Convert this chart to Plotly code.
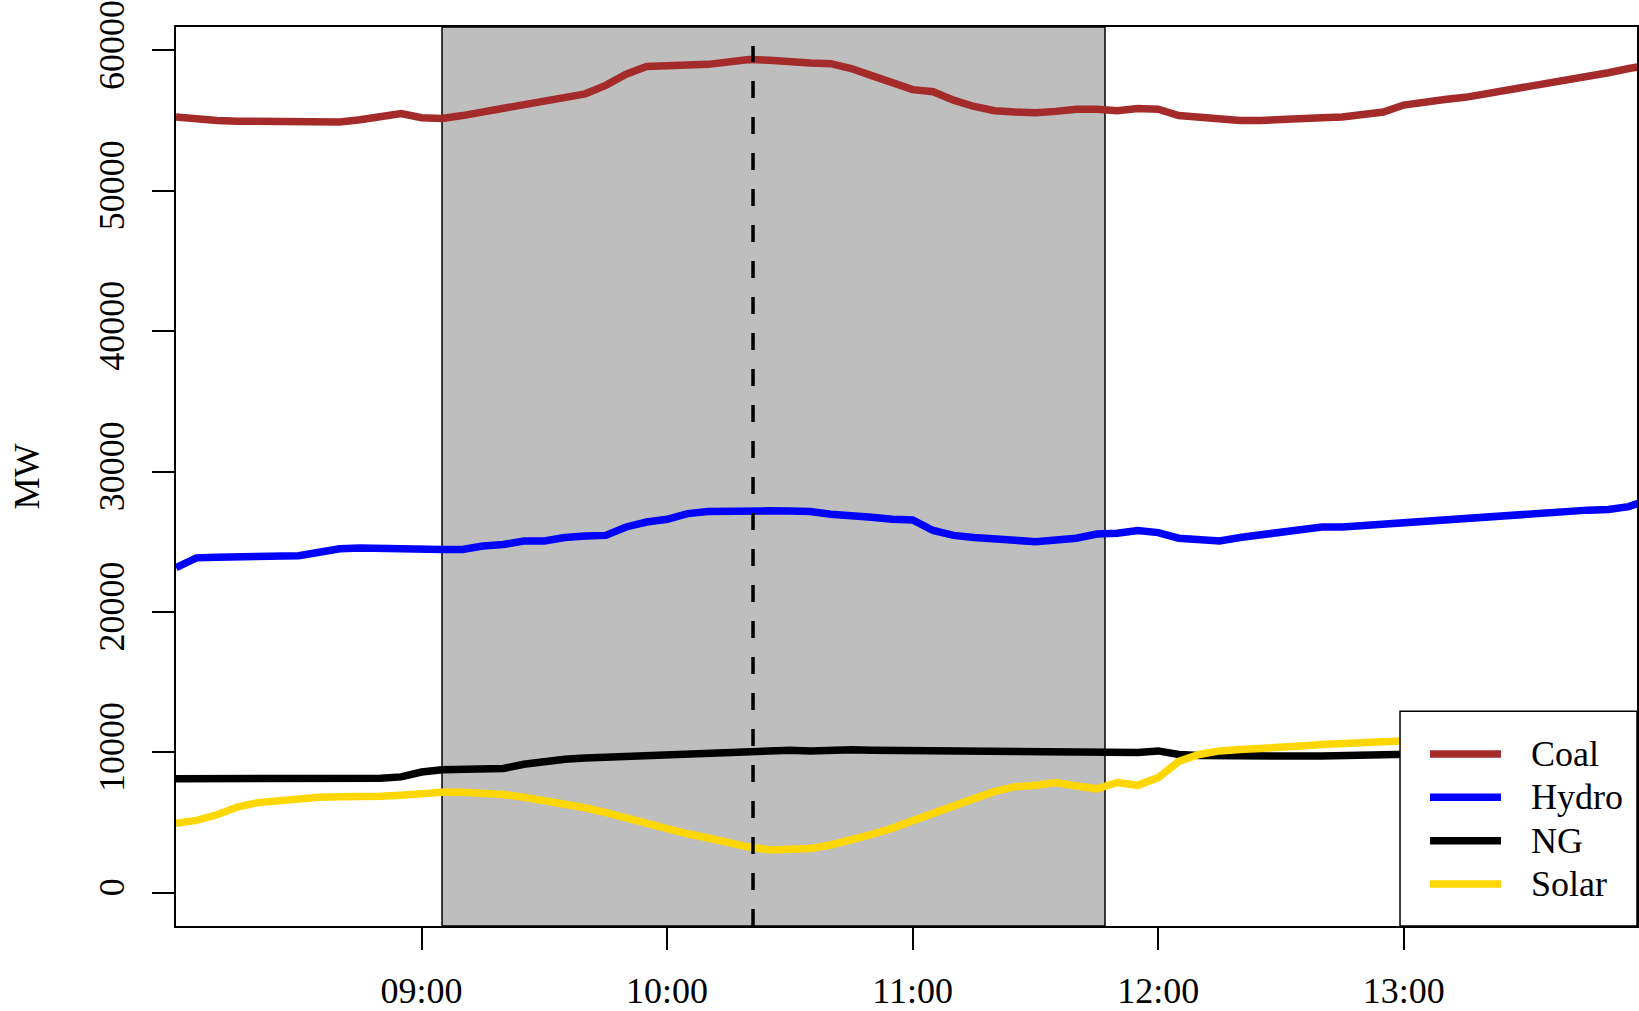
import pandas as pd
import plotly.graph_objects as go

# Generation by fuel, 5-minute samples starting at 08:00
start = "2019-06-01 08:00"
n_points = 73

coal = [55250, 55100, 55000, 54950, 54950, 54900, 54950, 54950, 54900, 55050,
        55250, 55500, 55200, 55150, 55350, 55600, 55850, 56050, 56300, 56650,
        56900, 57500, 58300, 58850, 58950, 58950, 59000, 59150, 59350, 59300,
        59150, 59100, 59050, 58700, 58200, 57650, 57200, 57050, 56450, 56000,
        55700, 55600, 55550, 55650, 55800, 55800, 55700, 55850, 55800, 55350,
        55200, 55050, 55000, 55000, 55100, 55150, 55200, 55250, 55450, 55600,
        56100, 56350, 56500, 56650, 56900, 57050, 57300, 57600, 57900, 58150,
        58400, 58700, 58950]
hydro = [23150, 23850, 23900, 23900, 23920, 23980, 24000, 24250, 24500, 24550,
         24500, 24500, 24480, 24450, 24450, 24700, 24800, 25050, 25050, 25300,
         25400, 25450, 26050, 26400, 26600, 27000, 27150, 27200, 27220, 27200,
         27180, 27150, 26950, 26900, 26750, 26600, 26550, 25800, 25450, 25300,
         25150, 25100, 25000, 25100, 25250, 25550, 25600, 25800, 25650, 25250,
         25150, 25050, 25300, 25500, 25650, 25800, 26050, 26050, 26150, 26250,
         26350, 26550, 26550, 26750, 26850, 26900, 26950, 27100, 27200, 27250,
         27300, 27500, 28000]
ng = [8120, 8120, 8110, 8100, 8100, 8100, 8100, 8100, 8110, 8120,
      8150, 8250, 8600, 8750, 8760, 8800, 8850, 9150, 9350, 9500,
      9600, 9650, 9700, 9750, 9800, 9880, 10000, 10080, 10120, 10120,
      10150, 10100, 10180, 10180, 10150, 10130, 10130, 10130, 10130, 10080,
      10030, 9980, 9970, 9970, 9960, 9960, 9960, 9980, 10100, 9850,
      9780, 9750, 9730, 9720, 9720, 9730, 9740, 9760, 9780, 9780,
      9780, 9800, 9850, 9900, 9950, 10000, 10050, 10100, 10100, 10150,
      10200, 10250, 10300]
solar = [4950, 5150, 5550, 6100, 6420, 6550, 6750, 6800, 6840, 6800,
         6880, 6950, 7100, 7150, 7150, 7100, 7000, 6800, 6550, 6350,
         6050, 5700, 5300, 4900, 4550, 4200, 3900, 3550, 3250, 3050,
         3050, 3150, 3400, 3750, 4150, 4600, 5150, 5650, 6200, 6700,
         7200, 7550, 7650, 7850, 7600, 7400, 7850, 7650, 8200, 9350,
         9850, 10100, 10200, 10250, 10350, 10450, 10550, 10650, 10700, 10750,
         10800, 10900, 11000, 11100, 11200, 11300, 11400, 11500, 11550, 11600,
         11700, 11750, 11800]

series_names = ["Coal", "Hydro", "NG", "Solar"]
series_values = [coal, hydro, ng, solar]
series_colors = ["#A52A2A", "#0000FF", "#000000", "#FFD700"]

x_tick_vals = ["2019-06-01 09:00", "2019-06-01 10:00", "2019-06-01 11:00",
               "2019-06-01 12:00", "2019-06-01 13:00"]
x_tick_text = ["09:00", "10:00", "11:00", "12:00", "13:00"]
y_tick_vals = [0, 10000, 20000, 30000, 40000, 50000, 60000]
y_tick_text = ["0", "10000", "20000", "30000", "40000", "50000", "60000"]

x_range = ["2019-06-01 08:00", "2019-06-01 13:57"]
y_range = [-2370, 61660]

window_start = "2019-06-01 09:05"
window_end = "2019-06-01 11:47"
event_time = "2019-06-01 10:21"
event_top = 60300

times = pd.date_range(start, periods=n_points, freq="5min")

FONT = "Liberation Serif, Times New Roman, serif"
LINE_W = 7.5

fig = go.Figure()
for name, vals, col in zip(series_names, series_values, series_colors):
    fig.add_trace(go.Scatter(x=times, y=vals, mode="lines", name=name,
                             line=dict(color=col, width=LINE_W),
                             showlegend=False))

# shaded window with thin edges
fig.add_shape(type="rect", xref="x", yref="paper",
              x0=window_start, x1=window_end, y0=0, y1=1,
              fillcolor="#BEBEBE", line=dict(color="black", width=1.5),
              layer="below")
# event marker
fig.add_shape(type="line", xref="x", yref="y",
              x0=event_time, x1=event_time, y0=y_range[0], y1=event_top,
              line=dict(color="black", width=3.5, dash="17px,19px"),
              layer="above")

# legend box in the lower-right corner
lg_x0, lg_y1 = 0.8378, 0.239
fig.add_shape(type="rect", xref="paper", yref="paper",
              x0=lg_x0, x1=1.0, y0=0, y1=lg_y1,
              fillcolor="white", line=dict(color="black", width=1.5),
              layer="above")
row_top, row_step = 0.1913, 0.0482
for i, (name, col) in enumerate(zip(series_names, series_colors)):
    yy = row_top - i * row_step
    fig.add_shape(type="line", xref="paper", yref="paper",
                  x0=0.8583, x1=0.9069, y0=yy, y1=yy,
                  line=dict(color=col, width=LINE_W), layer="above")
    fig.add_annotation(xref="paper", yref="paper", x=0.9261, y=yy,
                       text=name, showarrow=False, xanchor="left",
                       yanchor="middle",
                       font=dict(family=FONT, size=36, color="black"))

fig.add_annotation(xref="paper", yref="paper", x=0, y=0.5, xshift=-150,
                   text="MW", textangle=-90, showarrow=False,
                   xanchor="center", yanchor="middle",
                   font=dict(family=FONT, size=36, color="black"))

axis_common = dict(showgrid=False, zeroline=False, showline=True,
                   linecolor="black", linewidth=1.5, mirror=True,
                   ticks="outside", ticklen=22, tickwidth=1.5,
                   tickcolor="black", ticklabeloverflow="allow",
                   tickfont=dict(family=FONT, size=36, color="black"))

fig.update_xaxes(range=x_range, tickmode="array", tickvals=x_tick_vals,
                 ticktext=x_tick_text, ticklabelstandoff=10, **axis_common)
fig.update_yaxes(range=y_range, tickmode="array", tickvals=y_tick_vals,
                 ticktext=y_tick_text, tickangle=-90, ticklabelstandoff=14,
                 **axis_common)

fig.update_layout(width=1639, height=1011,
                  margin=dict(l=176, r=2, t=27, b=85, autoexpand=False),
                  plot_bgcolor="white", paper_bgcolor="white",
                  font=dict(family=FONT, size=36, color="black"))

fig.write_html("out.html")
